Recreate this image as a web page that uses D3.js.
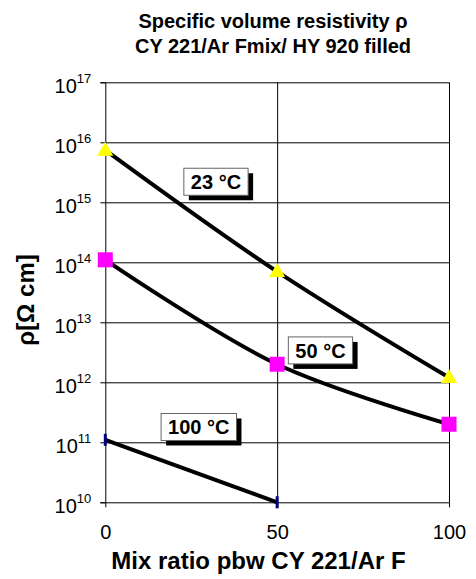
<html>

<head>
  <script src="https://d3js.org/d3.v7.min.js"></script>
  <style>
    body {
      margin: 0;
      background: #fff;
      font-family: "Liberation Sans", Arial, sans-serif;
    }

    .gridlines .domain {
      display: none;
    }

    .gridlines line {
      stroke: #000;
    }
  </style>
</head>

<body>
  <svg id="chart" width="476" height="579"></svg>
  <script>
    // values
    const mixRatio = [0, 50, 100];
    const rho23 = [7.4e15, 7e13, 1.2e12];
    const rho50 = [1.1e14, 2e12, 2e11];
    const rho100 = [1.1e11, 1e10];
    const xTicks = [0, 50, 100];
    const yTicks = [1e10, 1e11, 1e12, 1e13, 1e14, 1e15, 1e16, 1e17];
    const labelNames = ["23 °C", "50 °C", "100 °C"];
    const labelX = [32.2, 62.6, 27.2];
    const labelY = [2.2e15, 3.4e12, 1.8e11];

    const margin = { top: 82.3, right: 27, bottom: 76.7, left: 105.3 };
    const width = 476 - margin.left - margin.right;
    const height = 579 - margin.top - margin.bottom;

    const x = d3.scaleLinear().domain([0, 100]).range([0, width]);
    const y = d3.scaleLog().domain([1e10, 1e17]).range([height, 0]);

    const svg = d3.select("svg#chart");
    const g = svg.append("g").attr("transform", `translate(${margin.left},${margin.top})`);

    // horizontal gridlines
    g.append("g")
      .attr("class", "gridlines")
      .call(d3.axisLeft(y).tickValues(yTicks).tickSize(-width).tickFormat(""));
    // vertical gridlines
    g.append("g")
      .attr("class", "gridlines")
      .attr("transform", `translate(0,${height})`)
      .call(d3.axisBottom(x).tickValues([50, 100]).tickSize(-height).tickFormat(""));

    // left axis with superscript labels
    const leftAxis = g.append("g")
      .call(d3.axisLeft(y).tickValues(yTicks).tickSize(5).tickPadding(9).tickFormat(""));
    leftAxis.select(".domain").attr("stroke", "#000");
    leftAxis.selectAll(".tick text").each(function (d) {
      const t = d3.select(this)
        .attr("font-size", 20)
        .attr("font-family", "Liberation Sans, Arial, sans-serif")
        .attr("fill", "#000")
        .attr("dy", "0.52em");
      t.append("tspan").text("10");
      t.append("tspan").attr("font-size", 13).attr("dy", "-0.8em").text(Math.round(Math.log10(d)));
    });

    const bottomAxis = g.append("g")
      .attr("transform", `translate(0,${height})`)
      .call(d3.axisBottom(x).tickValues(xTicks).tickSize(5).tickPadding(18).tickFormat(d3.format("d")));
    bottomAxis.select(".domain").remove();
    bottomAxis.selectAll(".tick text")
      .attr("font-size", 20)
      .attr("font-family", "Liberation Sans, Arial, sans-serif")
      .attr("fill", "#000");

    // curves
    const line = d3.line()
      .x((d, i) => x(mixRatio[i]))
      .y(d => y(d))
      .curve(d3.curveCatmullRom);

    [rho23, rho50, rho100].forEach(s => {
      g.append("path")
        .datum(s)
        .attr("d", line)
        .attr("fill", "none")
        .attr("stroke", "#000")
        .attr("stroke-width", 4);
    });

    // markers
    g.selectAll(".tri").data(rho23).join("path")
      .attr("transform", (d, i) => `translate(${x(mixRatio[i])},${y(d)})`)
      .attr("d", "M0,-8.5L8,5.5L-8,5.5Z")
      .attr("fill", "#ffff00");

    g.selectAll(".sq").data(rho50).join("rect")
      .attr("x", (d, i) => x(mixRatio[i]) - 7.5)
      .attr("y", d => y(d) - 7.5)
      .attr("width", 15)
      .attr("height", 15)
      .attr("fill", "#ff00ff");

    g.selectAll(".dash").data(rho100).join("rect")
      .attr("x", (d, i) => x(mixRatio[i]) - 1.5)
      .attr("y", d => y(d) - 6)
      .attr("width", 3)
      .attr("height", 12)
      .attr("fill", "#000080");

    // labels with shadow boxes
    labelNames.forEach((name, i) => {
      const lg = g.append("g")
        .attr("transform", `translate(${x(labelX[i])},${y(labelY[i])})`);
      const txt = lg.append("text")
        .attr("text-anchor", "middle")
        .attr("dy", "0.36em")
        .attr("font-size", 20)
        .attr("font-weight", "bold")
        .attr("fill", "#000")
        .text(name);
      const w = txt.node().getComputedTextLength() + 14;
      const h = 27;
      lg.insert("rect", "text")
        .attr("x", -w / 2 + 5).attr("y", -h / 2 + 5)
        .attr("width", w).attr("height", h)
        .attr("fill", "#000");
      lg.insert("rect", "text")
        .attr("x", -w / 2).attr("y", -h / 2)
        .attr("width", w).attr("height", h)
        .attr("fill", "#fff")
        .attr("stroke", "#666")
        .attr("stroke-width", 1);
    });

    // titles
    const title = svg.append("text")
      .attr("text-anchor", "middle")
      .attr("font-size", 20)
      .attr("font-weight", "bold")
      .attr("fill", "#000");
    title.append("tspan").attr("x", 273).attr("y", 27.5).text("Specific volume resistivity ρ");
    title.append("tspan").attr("x", 273).attr("y", 53).text("CY 221/Ar Fmix/ HY 920 filled");

    svg.append("text")
      .attr("x", 258.5).attr("y", 569)
      .attr("text-anchor", "middle")
      .attr("font-size", 24)
      .attr("font-weight", "bold")
      .attr("fill", "#000")
      .text("Mix ratio pbw CY 221/Ar F");

    svg.append("text")
      .attr("transform", "translate(34,300) rotate(-90)")
      .attr("text-anchor", "middle")
      .attr("font-size", 24)
      .attr("font-weight", "bold")
      .attr("fill", "#000")
      .text("ρ[Ω cm]");
  </script>
</body>

</html>
